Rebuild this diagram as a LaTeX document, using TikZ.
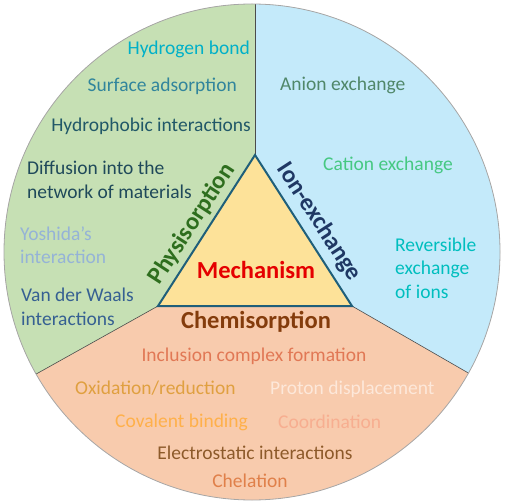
\documentclass[tikz,border=0pt]{standalone}
\usepackage{fontspec}
\setmainfont{Carlito}
\definecolor{gfill}{HTML}{C6E0B4}
\definecolor{bfill}{HTML}{C4EAFA}
\definecolor{ofill}{HTML}{F8CBAD}
\definecolor{tfill}{HTML}{FDE299}
\definecolor{tedge}{HTML}{1F5F7A}
\begin{document}
\begin{tikzpicture}[x=1pt,y=-1pt,
  lbl/.style={font=\fontsize{19.5}{23.5}\selectfont, inner sep=0pt},
  ml/.style={lbl, align=left, anchor=west},
  head/.style={font=\fontsize{24.5}{28}\selectfont\bfseries, inner sep=0pt}]
\useasboundingbox (0,0) rectangle (505,502);
% sectors
\begin{scope}
  \clip (252,252) circle (248);
  \fill[ofill] (0,0) rectangle (505,502);
  \fill[gfill] (255,155) -- (255,-5) -- (-5,-5) -- (-5,397) -- (158,306) -- cycle;
  \fill[bfill] (255,155) -- (255,-5) -- (510,-5) -- (510,397) -- (352,306) -- cycle;
  \draw[gray!60!black, line width=0.6pt] (255,155) -- (255,-5);
  \draw[gray!60!black, line width=0.6pt] (158,306) -- (-5,397);
  \draw[gray!60!black, line width=0.6pt] (352,306) -- (510,397);
\end{scope}
\draw[gray!70, line width=0.8pt] (252,252) circle (248);
% triangle
\draw[tedge, fill=tfill, line width=2pt, line join=miter] (255,155) -- (158,306) -- (352,306) -- cycle;
% headings
\node[head, text=red!90!black] (mech) at (256,270) {Mechanism};
\node[head, text={rgb,255:red,46;green,110;blue,30}, rotate=57] (phys) at (192,224) {Physisorption};
\node[head, text={rgb,255:red,31;green,56;blue,100}, rotate=-57] (ion) at (319,222) {Ion-exchange};
\node[head, text={rgb,255:red,132;green,60;blue,12}] (chem) at (256,322) {Chemisorption};
% green sector
\node[lbl, anchor=east, text={rgb,255:red,0;green,176;blue,200}] (hb) at (250,49) {Hydrogen bond};
\node[lbl, anchor=east, text={rgb,255:red,49;green,133;blue,156}] (sa) at (237,86) {Surface adsorption};
\node[lbl, anchor=east, text={rgb,255:red,33;green,88;blue,104}] (hi) at (251,126) {Hydrophobic interactions};
\node[ml, text={rgb,255:red,31;green,73;blue,90}] (dif) at (27,180) {Diffusion into the\\network of materials};
\node[ml, text={rgb,255:red,149;green,179;blue,215}] (yo) at (20,245) {Yoshida's\\interaction};
\node[ml, text={rgb,255:red,54;green,96;blue,146}] (vdw) at (21,307) {Van der Waals\\interactions};
% blue sector
\node[lbl, anchor=west, text={rgb,255:red,80;green,135;blue,105}] (an) at (280,85) {Anion exchange};
\node[lbl, anchor=west, text={rgb,255:red,70;green,200;blue,130}] (ca) at (323,165) {Cation exchange};
\node[ml, text={rgb,255:red,0;green,190;blue,190}] (rev) at (395,268) {Reversible\\exchange\\of ions};
% orange sector
\node[lbl, text={rgb,255:red,225;green,120;blue,85}] (inc) at (254,356) {Inclusion complex formation};
\node[lbl, anchor=west, text={rgb,255:red,224;green,160;blue,64}] (ox) at (75,388) {Oxidation/reduction};
\node[lbl, anchor=west, text={rgb,255:red,253;green,232;blue,218}] (pd) at (270,389) {Proton displacement};
\node[lbl, anchor=west, text={rgb,255:red,255;green,176;blue,74}] (cov) at (115,422) {Covalent binding};
\node[lbl, anchor=west, text={rgb,255:red,247;green,174;blue,144}] (coo) at (278,422) {Coordination};
\node[lbl, text={rgb,255:red,141;green,90;blue,42}] (el) at (255,453) {Electrostatic interactions};
\node[lbl, text={rgb,255:red,224;green,128;blue,74}] (che) at (250,481) {Chelation};
\end{tikzpicture}
\end{document}
